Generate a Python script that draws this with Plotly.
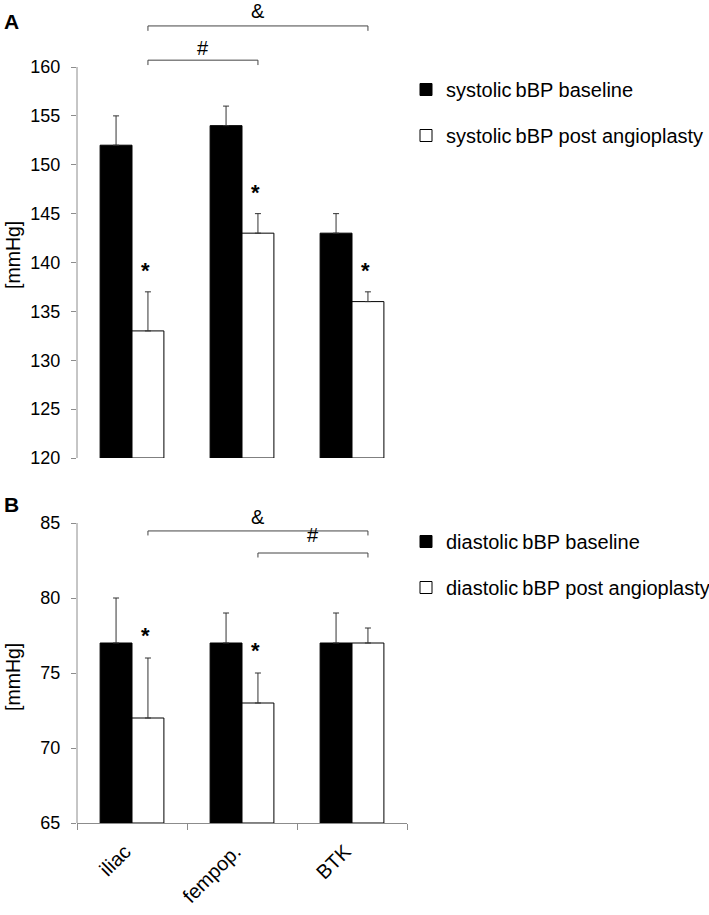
import plotly.graph_objects as go

# ---------------- data ----------------
categories = ["iliac", "fempop.", "BTK"]

sys_baseline = [152, 154, 143]
sys_baseline_err = [3, 2, 2]
sys_post = [133, 143, 136]
sys_post_err = [4, 2, 1]

dia_baseline = [77, 77, 77]
dia_baseline_err = [3, 2, 2]
dia_post = [72, 73, 77]
dia_post_err = [4, 2, 1]

sys_sig = [True, True, True]
dia_sig = [True, True, False]

sys_ticks = [120, 125, 130, 135, 140, 145, 150, 155, 160]
dia_ticks = [65, 70, 75, 80, 85]

# ---------------- style ----------------
FONT = "Liberation Sans, Arial, sans-serif"
GREY = "#8c8c8c"
W, H = 709, 915
A_BASE, A_TOP = 120, 160
B_BASE, B_TOP = 65, 85
OFF = 0.145  # bar centre offset inside a group

def px(y):
    return 1 - y / H

fig = go.Figure()

def add_bars(base, v0, e0, v1, e1, xa, ya, leg, names):
    fig.add_trace(go.Bar(
        x=categories, y=[v - base for v in v0], base=base,
        name=names[0], marker=dict(color="black", line=dict(color="black", width=1)),
        error_y=dict(type="data", array=e0, arrayminus=[0] * len(e0), symmetric=False,
                     color="#333333", thickness=1, width=3),
        xaxis=xa, yaxis=ya, legend=leg, legendgroup=leg + "a"))
    fig.add_trace(go.Bar(
        x=categories, y=[v - base for v in v1], base=base,
        name=names[1], marker=dict(color="white", line=dict(color="black", width=1)),
        error_y=dict(type="data", array=e1, arrayminus=[0] * len(e1), symmetric=False,
                     color="#333333", thickness=1, width=3),
        xaxis=xa, yaxis=ya, legend=leg, legendgroup=leg + "b"))

add_bars(A_BASE, sys_baseline, sys_baseline_err, sys_post, sys_post_err, "x", "y", "legend",
         ["systolic\u2009bBP baseline", "systolic\u2009bBP post angioplasty"])
add_bars(B_BASE, dia_baseline, dia_baseline_err, dia_post, dia_post_err, "x2", "y2", "legend2",
         ["diastolic\u2009bBP baseline", "diastolic\u2009bBP post angioplasty"])

xl, xr = 77 / W, 407 / W
A_top_px, A_bot_px = 3, 458
B_top_px, B_bot_px = 500, 823
A_range_top = A_TOP + (67 - A_top_px) / ((A_bot_px - 67) / (A_TOP - A_BASE))
B_range_top = B_TOP + (523 - B_top_px) / ((B_bot_px - 523) / (B_TOP - B_BASE))

tickfont = dict(family=FONT, size=18, color="black")
legfont = dict(family=FONT, size=20, color="black")

fig.update_layout(
    width=W, height=H, margin=dict(l=0, r=0, t=0, b=0, autoexpand=False),
    paper_bgcolor="white", plot_bgcolor="white",
    barmode="group", bargap=0.42, bargroupgap=0,
    font=dict(family=FONT, size=18, color="black"),
    xaxis=dict(domain=[xl, xr], anchor="y", showline=False, showticklabels=False,
               ticks="", showgrid=False, zeroline=False, range=[-0.5, 2.5], automargin=False),
    yaxis=dict(domain=[px(A_bot_px), px(A_top_px)], anchor="x", range=[A_BASE, A_range_top],
               tickvals=sys_ticks, ticks="outside", ticklen=5, tickcolor=GREY, tickwidth=1,
               ticklabelstandoff=7, automargin=False,
               showline=False, showgrid=False, zeroline=False, tickfont=tickfont),
    xaxis2=dict(domain=[xl, xr], anchor="y2", showline=True, linecolor=GREY, linewidth=1,
                ticks="outside", tickson="boundaries", ticklen=6, tickcolor=GREY,
                tickangle=-45, showgrid=False, zeroline=False,
                tickfont=dict(family=FONT, size=20, color="black"),
                ticklabelstandoff=8, ticklabelshift=-7, automargin=False,
                range=[-0.5, 2.5]),
    yaxis2=dict(domain=[px(B_bot_px), px(B_top_px)], anchor="x2", range=[B_BASE, B_range_top],
                tickvals=dia_ticks, ticks="outside", ticklen=5, tickcolor=GREY, tickwidth=1,
                ticklabelstandoff=7, automargin=False,
                showline=False, showgrid=False, zeroline=False, tickfont=tickfont),
    legend=dict(x=406 / W, xanchor="left", y=px(70), yanchor="top", font=legfont,
                traceorder="grouped", tracegroupgap=17, bgcolor="rgba(0,0,0,0)"),
    legend2=dict(x=406 / W, xanchor="left", y=px(522), yanchor="top", font=legfont,
                 traceorder="grouped", tracegroupgap=17, bgcolor="rgba(0,0,0,0)"),
)

# y axis lines (only over the tick range)
fig.add_shape(type="line", xref="paper", yref="y", x0=xl, x1=xl, y0=A_BASE, y1=A_TOP,
              line=dict(color=GREY, width=1))
fig.add_shape(type="line", xref="paper", yref="y2", x0=xl, x1=xl, y0=B_BASE, y1=B_TOP,
              line=dict(color=GREY, width=1))

# significance brackets: (from category, to category, level, drop, symbol, text y)
brackets_A = [(0, 2, 164.2, 0.5, "&", 165.7), (0, 1, 160.7, 0.5, "#", 161.9)]
brackets_B = [(0, 2, 84.47, 0.3, "&", 85.4), (1, 2, 83.0, 0.3, "#", 84.2)]

def add_brackets(brs, xr_, yr_):
    for c0, c1, lvl, drop, sym, ty in brs:
        x0, x1 = c0 + OFF, c1 + OFF
        fig.add_shape(type="path", xref=xr_, yref=yr_,
                      path=f"M {x0},{lvl - drop} L {x0},{lvl} L {x1},{lvl} L {x1},{lvl - drop}",
                      line=dict(color="#444444", width=1))
        fig.add_annotation(x=(x0 + x1) / 2, y=ty, xref=xr_, yref=yr_, text=sym,
                           showarrow=False, font=dict(family=FONT, size=20, color="black"))

add_brackets(brackets_A, "x", "y")
add_brackets(brackets_B, "x2", "y2")

# asterisks above post-angioplasty bars
def add_stars(vals, errs, sig, xr_, yr_, shift):
    for i, (v, e, s) in enumerate(zip(vals, errs, sig)):
        if s:
            fig.add_annotation(x=i + OFF, y=v + e, xref=xr_, yref=yr_, text="<b>*</b>",
                               showarrow=False, yanchor="middle", yshift=shift, xshift=-2,
                               font=dict(family=FONT, size=22, color="black"))

add_stars(sys_post, sys_post_err, sys_sig, "x", "y", 21)
add_stars(dia_post, dia_post_err, dia_sig, "x2", "y2", 23)

# panel letters and y-axis titles
fig.add_annotation(x=2 / W, y=px(21), xref="paper", yref="paper", text="<b>A</b>",
                   xanchor="left", yanchor="middle", showarrow=False,
                   font=dict(family=FONT, size=21))
fig.add_annotation(x=2 / W, y=px(505), xref="paper", yref="paper", text="<b>B</b>",
                   xanchor="left", yanchor="middle", showarrow=False,
                   font=dict(family=FONT, size=21))
fig.add_annotation(x=13 / W, y=px(255), xref="paper", yref="paper", text="[mmHg]",
                   xanchor="center", yanchor="middle",
                   textangle=-90, showarrow=False, font=dict(family=FONT, size=19.5))
fig.add_annotation(x=13 / W, y=px(677), xref="paper", yref="paper", text="[mmHg]",
                   xanchor="center", yanchor="middle",
                   textangle=-90, showarrow=False, font=dict(family=FONT, size=19.5))

fig.write_html("out.html", config={"displayModeBar": False},
               post_script="document.body.style.margin='0';document.body.style.overflow='hidden';")
